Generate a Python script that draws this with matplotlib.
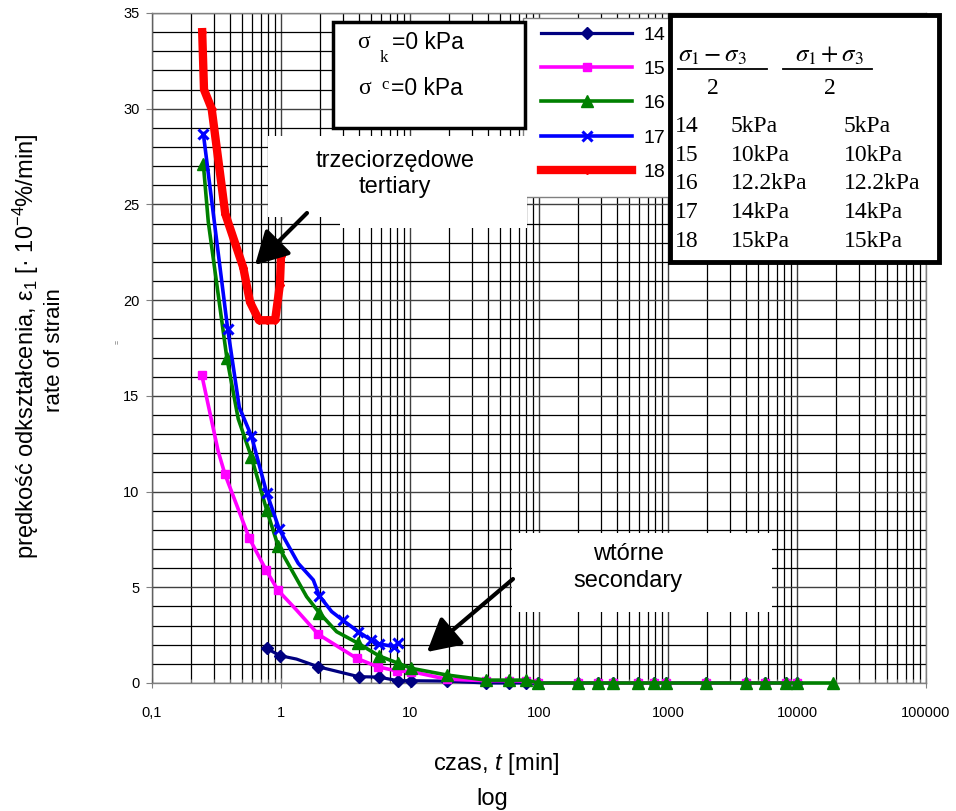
import numpy as np
import matplotlib
matplotlib.use('Agg')
import matplotlib.pyplot as plt
from matplotlib.patches import Rectangle, FancyArrowPatch
from matplotlib.lines import Line2D
from matplotlib.ticker import FixedLocator, FixedFormatter, NullFormatter, LogLocator, MultipleLocator

plt.rcParams['font.family'] = ['Liberation Sans', 'DejaVu Sans']
plt.rcParams['mathtext.fontset'] = 'custom'
plt.rcParams['mathtext.rm'] = 'Liberation Sans'
plt.rcParams['mathtext.it'] = 'Liberation Sans:italic'
plt.rcParams['mathtext.bf'] = 'Liberation Sans:bold'

# ---------------- data (time [min], strain rate [1e-4 %/min]) ----------------
tail_t = [39, 59, 80, 99, 202, 288, 377, 589, 778, 964, 1971, 4027, 5680, 8220, 10050]

t14 = [0.774, 0.98, 1.32, 1.94, 4.0, 5.7, 8.1, 10.2, 19.2] + tail_t
v14 = [1.81, 1.43, 1.25, 0.85, 0.33, 0.31, 0.12, 0.12, 0.10] + [0.0] * 15
m14 = [0, 1, 3, 4, 5, 6, 7, 8] + list(range(9, 24))

t15 = [0.243, 0.326, 0.368, 0.568, 0.766, 0.943, 1.32, 1.94, 3.86, 5.6, 8.0, 10.2, 19.2] + tail_t
v15 = [16.1, 12.1, 10.9, 7.56, 5.9, 4.86, 3.81, 2.55, 1.29, 0.85, 0.62, 0.6, 0.2,
       0.12, 0.12, 0.1, 0.0, 0.0, 0.0, 0.0, 0.0, 0.0, 0.0, 0.0, 0.0, 0.0, 0.0, 0.0]
m15 = [0, 2, 3, 4, 5, 7, 8, 9, 10, 11, 12] + list(range(13, 28))

t16 = [0.25, 0.273, 0.38, 0.466, 0.59, 0.774, 0.95, 1.58, 1.98, 2.7, 3.97, 5.78, 8.1, 10.2, 19.2] + tail_t + [19100]
v16 = [27.1, 24.1, 17.0, 13.8, 11.8, 9.04, 7.16, 4.51, 3.67, 2.68, 2.07, 1.41, 1.03, 0.77, 0.42,
       0.15, 0.15, 0.15, 0.0, 0.0, 0.0, 0.0, 0.0, 0.0, 0.0, 0.0, 0.0, 0.0, 0.0, 0.0, 0.0]
m16 = [0, 2, 4, 5, 6, 8, 10, 11, 12, 13, 14] + list(range(15, 31))

t17 = [0.25, 0.386, 0.475, 0.59, 0.774, 0.97, 1.36, 1.78, 1.98, 2.47, 3.0, 3.97, 4.99, 5.78, 7.55, 8.1]
v17 = [28.7, 18.5, 14.4, 12.9, 9.94, 8.03, 6.25, 5.38, 4.56, 3.73, 3.29, 2.68, 2.25, 2.04, 1.9, 2.07]
m17 = [0, 1, 3, 4, 5, 8, 10, 11, 12, 13, 14, 15]

t18 = [0.245, 0.253, 0.29, 0.37, 0.51, 0.575, 0.675, 0.774, 0.9, 0.98, 1.0]
v18 = [34.0, 31.0, 30.0, 24.5, 21.7, 19.9, 18.95, 18.95, 18.95, 20.8, 22.3]
m18 = [0, 2, 3, 4, 5, 6, 7, 8, 9, 10]

series_names = ['14', '15', '16', '17', '18']
shear_stress = ['5kPa', '10kPa', '12.2kPa', '14kPa', '15kPa']
mean_stress = ['5kPa', '10kPa', '12.2kPa', '14kPa', '15kPa']

xtick_vals = [0.1, 1, 10, 100, 1000, 10000, 100000]
xtick_labels = ['0,1', '1', '10', '100', '1000', '10000', '100000']
ytick_vals = [0, 5, 10, 15, 20, 25, 30, 35]

# ---------------- figure ----------------
W, H = 956, 811
fig = plt.figure(figsize=(W / 100, H / 100), dpi=100)


def fx(x):
    return x / W


def fy(y):
    return 1 - y / H


ax = fig.add_axes([fx(152), fy(683), fx(926) - fx(152), fy(13) - fy(683)])
ax.set_xscale('log')
ax.set_xlim(0.1, 100000)
ax.set_ylim(0, 35)

styles = [
    dict(color='#000080', marker='D', ms=6, lw=2.3),
    dict(color='#FF00FF', marker='s', ms=6, lw=2.6),
    dict(color='#008000', marker='^', ms=8, lw=2.6),
    dict(color='#0000FF', marker='x', ms=7, mew=2.2, lw=2.6),
    dict(color='#FF0000', marker='D', ms=4, lw=6),
]
data = [(t14, v14, m14), (t15, v15, m15), (t16, v16, m16), (t17, v17, m17), (t18, v18, m18)]
handles = []
for (t, v, m), st, name in zip(data, styles, series_names):
    ln, = ax.plot(t, v, markevery=m, label=name, clip_on=False, zorder=3,
                  solid_joinstyle='round', **st)
    handles.append(ln)

# grid
ax.xaxis.set_major_locator(FixedLocator(xtick_vals))
ax.xaxis.set_major_formatter(FixedFormatter(xtick_labels))
ax.xaxis.set_minor_locator(LogLocator(base=10, subs=np.arange(2, 10), numticks=100))
ax.xaxis.set_minor_formatter(NullFormatter())
ax.yaxis.set_major_locator(FixedLocator(ytick_vals))
ax.yaxis.set_minor_locator(MultipleLocator(1))
ax.grid(True, which='major', color='#404040', lw=1.0)
ax.grid(True, which='minor', color='black', lw=0.9)
ax.set_axisbelow(True)

ax.tick_params(axis='x', which='major', direction='inout', length=7, color='#808080',
               labelsize=10.5, pad=13)
ax.tick_params(axis='x', which='minor', direction='in', length=3, color='#808080')
ax.tick_params(axis='y', which='major', direction='out', length=4, color='#808080',
               labelsize=10.5, pad=5)
ax.tick_params(axis='y', which='minor', length=0)
for s in ax.spines.values():
    s.set_color('#808080')
    s.set_linewidth(1.0)
ax.spines['left'].set_color('#606060')

# legend (frame drawn separately)
leg_frame = Rectangle((fx(523), fy(197)), fx(700) - fx(523), fy(18) - fy(197),
                      transform=fig.transFigure, fc='white', ec='#808080', lw=1.0,
                      clip_on=False, zorder=5)
ax.add_patch(leg_frame)
leg = ax.legend(handles=handles, loc='upper left', bbox_to_anchor=(fx(541), fy(26)),
                bbox_transform=fig.transFigure, frameon=False, fontsize=14,
                handlelength=4.7, handletextpad=0.55, labelspacing=0.86,
                borderpad=0, borderaxespad=0, numpoints=1)
leg.set_zorder(6)

# table box
fig.add_artist(Rectangle((fx(670), fy(262)), fx(939) - fx(670), fy(15) - fy(262),
                         transform=fig.transFigure, fc='white', ec='black', lw=3.5, zorder=2))
fig.text(fx(712), fy(62), r'$\sigma_1 - \sigma_3$', ha='center', va='baseline', fontsize=18,
         math_fontfamily='stix', zorder=3)
fig.text(fx(829), fy(62), r'$\sigma_1 + \sigma_3$', ha='center', va='baseline', fontsize=18,
         math_fontfamily='stix', zorder=3)
fig.add_artist(Line2D([fx(678), fx(767)], [fy(69), fy(69)], color='black', lw=1.3, zorder=3))
fig.add_artist(Line2D([fx(783), fx(872)], [fy(69), fy(69)], color='black', lw=1.3, zorder=3))
fig.text(fx(713), fy(94), '2', ha='center', va='baseline', fontsize=17,
         family='Liberation Serif', zorder=3)
fig.text(fx(830), fy(94), '2', ha='center', va='baseline', fontsize=17,
         family='Liberation Serif', zorder=3)
row_base = [132, 161, 189, 218, 247]
for yb, n, a, b in zip(row_base, series_names, shear_stress, mean_stress):
    fig.text(fx(675), fy(yb), n, ha='left', va='baseline', fontsize=17,
             family='Liberation Serif', zorder=3)
    fig.text(fx(731), fy(yb), a, ha='left', va='baseline', fontsize=17,
             family='Liberation Serif', zorder=3)
    fig.text(fx(844), fy(yb), b, ha='left', va='baseline', fontsize=17,
             family='Liberation Serif', zorder=3)

# sigma box
fig.add_artist(Rectangle((fx(333), fy(128)), fx(525) - fx(333), fy(22) - fy(128),
                         transform=fig.transFigure, fc='white', ec='black', lw=2.5, zorder=2))
fig.text(fx(357), fy(48), 'σ', ha='left', va='baseline', fontsize=17,
         family='Liberation Serif', zorder=3)
fig.text(fx(380), fy(62), 'k', ha='left', va='baseline', fontsize=12,
         family='Liberation Serif', zorder=3)
fig.text(fx(392), fy(49), '=0 kPa', ha='left', va='baseline', fontsize=16.5, zorder=3)
fig.text(fx(358), fy(94), 'σ', ha='left', va='baseline', fontsize=17,
         family='Liberation Serif', zorder=3)
fig.text(fx(381), fy(89), 'c', ha='left', va='baseline', fontsize=12,
         family='Liberation Serif', zorder=3)
fig.text(fx(391), fy(95), '=0 kPa', ha='left', va='baseline', fontsize=16.5, zorder=3)

# annotation boxes
fig.add_artist(Rectangle((fx(268), fy(217)), fx(527) - fx(268), fy(136) - fy(217),
                         transform=fig.transFigure, fc='white', ec='none', zorder=2))
fig.add_artist(Rectangle((fx(340), fy(228)), fx(527) - fx(340), fy(217) - fy(228),
                         transform=fig.transFigure, fc='white', ec='none', zorder=2))
fig.text(fx(395), fy(167), 'trzeciorzędowe', ha='center', va='baseline', fontsize=17, zorder=3)
fig.text(fx(395), fy(193), 'tertiary', ha='center', va='baseline', fontsize=17, zorder=3)
fig.add_artist(FancyArrowPatch((fx(307), fy(213)), (fx(255), fy(265)),
                               transform=fig.transFigure,
                               arrowstyle='-|>,head_length=1.0,head_width=0.55',
                               mutation_scale=20, lw=3, color='black',
                               shrinkA=0, shrinkB=0, zorder=4))

fig.add_artist(Rectangle((fx(512), fy(612)), fx(772) - fx(512), fy(533) - fy(612),
                         transform=fig.transFigure, fc='white', ec='none', zorder=2))
fig.text(fx(628), fy(560), 'wtórne', ha='center', va='baseline', fontsize=17, zorder=3)
fig.text(fx(628), fy(587), 'secondary', ha='center', va='baseline', fontsize=17, zorder=3)
fig.add_artist(FancyArrowPatch((fx(513), fy(579)), (fx(427), fy(652)),
                               transform=fig.transFigure,
                               arrowstyle='-|>,head_length=1.0,head_width=0.55',
                               mutation_scale=20, lw=3, color='black',
                               shrinkA=0, shrinkB=0, zorder=4))

# axis labels
fig.text(fx(26), fy(346), 'prędkość odkształcenia, ε$_1$ [· 10$^{-4}$%/min]', rotation=90,
         ha='center', va='center', fontsize=17, math_fontfamily='custom')
fig.text(fx(54), fy(350), 'rate of strain', rotation=90, ha='center', va='center', fontsize=16)
fig.text(fx(118), fy(342), '=', rotation=90, ha='center', va='center', fontsize=5, color='#555555')
fig.text(fx(496), fy(770), 'czas, $t$ [min]', ha='center', va='baseline', fontsize=17,
         math_fontfamily='custom')
fig.text(fx(492), fy(805), 'log', ha='center', va='baseline', fontsize=17)

fig.savefig('out.png', dpi=100)
